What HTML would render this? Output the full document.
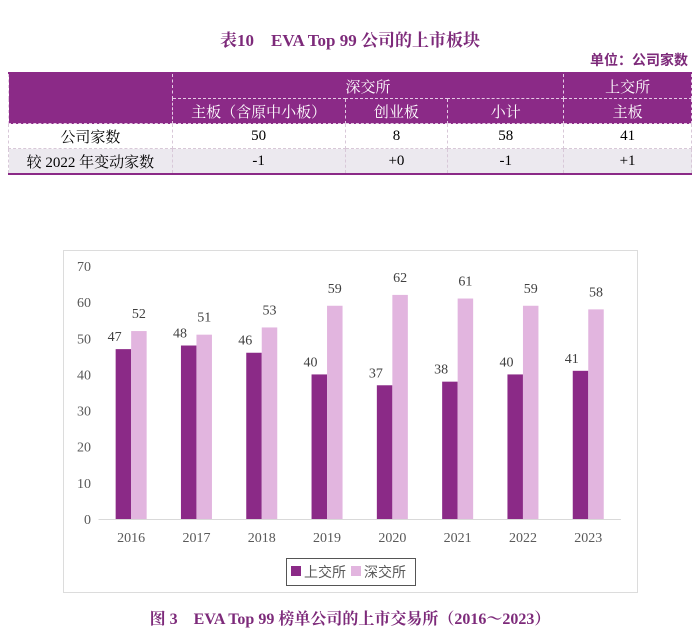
<!DOCTYPE html>
<html><head><meta charset="utf-8">
<style>
body{margin:0;width:700px;height:642px;background:#fff;position:relative;overflow:hidden;font-family:"Liberation Serif","Noto Serif CJK SC",serif;}
.title{position:absolute;left:0;width:700px;text-align:center;color:#7d2a7a;font-weight:bold;font-size:17px;}
.unit{position:absolute;right:12px;top:50px;color:#7d2a7a;font-weight:bold;font-size:14px;font-family:"Liberation Sans","Noto Sans CJK SC",sans-serif;}
table{position:absolute;left:8px;top:72px;width:684px;border-collapse:collapse;font-size:15px;font-family:"Liberation Serif","Noto Serif CJK SC",serif;}
td{height:24px;padding:0;text-align:center;border:1px dashed #d8c8d8;}
tr.h td{background:#8b2a87;color:#fff;border-color:#e6cbe6;}
tr.g td{background:#ece9ef;}
table{border-top:2px solid #8b2a87;border-bottom:2px solid #8b2a87;}
</style></head><body>
<div class="title" style="top:26px">表10　EVA Top 99 公司的上市板块</div>
<div class="unit">单位：公司家数</div>
<table>
<colgroup><col style="width:164px"><col style="width:173px"><col style="width:103px"><col style="width:116px"><col style="width:128px"></colgroup>
<tr class="h"><td rowspan="2"></td><td colspan="3">深交所</td><td>上交所</td></tr>
<tr class="h"><td>主板（含原中小板）</td><td>创业板</td><td>小计</td><td>主板</td></tr>
<tr><td>公司家数</td><td>50</td><td>8</td><td>58</td><td>41</td></tr>
<tr class="g"><td>较 2022 年变动家数</td><td>-1</td><td>+0</td><td>-1</td><td>+1</td></tr>
</table>
<svg id="chart" width="700" height="642" style="position:absolute;left:0;top:0">
<rect x="63.5" y="250.5" width="574" height="342" fill="none" stroke="#dcdcdc"/>
</svg>
<div class="title" style="top:606px;font-size:16px">图 3　EVA Top 99 榜单公司的上市交易所（2016～2023）</div>
<script>
const years=["2016","2017","2018","2019","2020","2021","2022","2023"];
const sse=[47,48,46,40,37,38,40,41];
const szse=[52,51,53,59,62,61,59,58];
const yTicks=[0,10,20,30,40,50,60,70];
const svg=document.getElementById('chart');
const NS='http://www.w3.org/2000/svg';
const y0=519,yTop=266,yMax=70;
const yS=v=>y0-(y0-yTop)*v/yMax;
const x0=98.5,step=65.3;
const xC=i=>x0+step*(i+0.5);
const bw=15.5;
function mk(t,a){const e=document.createElementNS(NS,t);for(const k in a)e.setAttribute(k,a[k]);svg.appendChild(e);return e;}
const ax=mk('line',{x1:x0,x2:x0+step*years.length,y1:y0+0.5,y2:y0+0.5,stroke:'#d9d9d9'});


yTicks.forEach(v=>{const t=mk('text',{x:91,y:yS(v)+5,'text-anchor':'end','font-size':14,fill:'#595959','font-family':'Liberation Serif'});t.textContent=v;

});
years.forEach((yr,i)=>{const c=xC(i);
const t=mk('text',{x:c,y:y0+23,'text-anchor':'middle','font-size':14,fill:'#595959','font-family':'Liberation Serif'});t.textContent=yr;


const b1=mk('rect',{x:c-bw,y:yS(sse[i]),width:bw,height:y0-yS(sse[i]),fill:'#8b2a87'});


const b2=mk('rect',{x:c,y:yS(szse[i]),width:bw,height:y0-yS(szse[i]),fill:'#e2b5df'});


const l1=mk('text',{x:c-bw-1,y:yS(sse[i])-8,'text-anchor':'middle','font-size':14,fill:'#404040','font-family':'Liberation Serif'});l1.textContent=sse[i];


const l2=mk('text',{x:c+bw/2,y:yS(szse[i])-13,'text-anchor':'middle','font-size':14,fill:'#404040','font-family':'Liberation Serif'});l2.textContent=szse[i];


});
const lg=mk('rect',{x:286.5,y:558.5,width:129,height:27,fill:'#fff',stroke:'#555'});


[['上交所','#8b2a87',291],['深交所','#e2b5df',351]].forEach(([n,c,x])=>{
const s=mk('rect',{x:x,y:566,width:10,height:10,fill:c});


const t=mk('text',{x:x+13,y:577,'font-size':14,fill:'#595959','font-family':'Liberation Sans, Noto Sans CJK SC, sans-serif'});t.textContent=n;

});
</script>
</body></html>
